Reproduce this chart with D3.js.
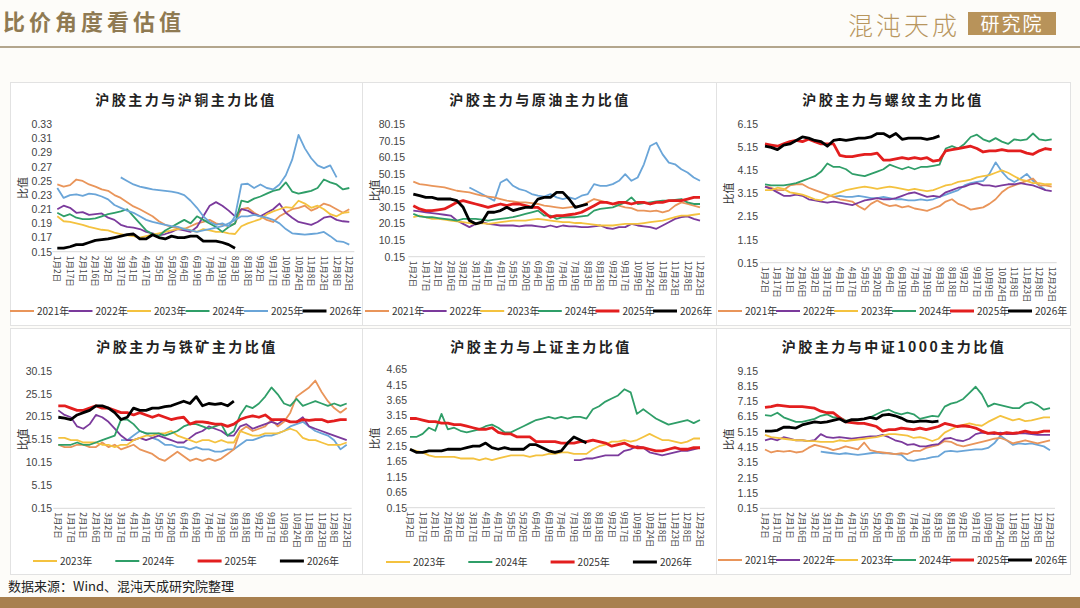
<!DOCTYPE html>
<html>
<head>
<meta charset="utf-8">
<script src="https://cdn.jsdelivr.net/npm/d3@7"></script>
<style>
  body { margin: 0; background: #fdfcf9; }
  svg { display: block; font-family: "Noto Sans CJK SC", "Noto Sans", sans-serif; }
</style>
</head>
<body>
<script>
// x axis labels (one every second data point)
const dates = ["1月2日","1月17日","2月1日","2月16日","3月2日","3月17日","4月1日","4月17日","5月5日","5月20日","6月4日","6月19日","7月4日","7月19日","8月3日","8月18日","9月2日","9月17日","10月9日","10月24日","11月8日","11月23日","12月8日","12月23日"];
const years = ["2021年","2022年","2023年","2024年","2025年","2026年"];

// 沪胶/沪铜
const cuTicks = [0.15,0.17,0.19,0.21,0.23,0.25,0.27,0.29,0.31,0.33];
const cu2021 = [0.245,0.242,0.244,0.252,0.250,0.245,0.242,0.238,0.236,0.230,0.226,0.220,0.214,0.210,0.205,0.200,0.193,0.188,0.185,0.183,0.182,0.186,0.190,0.192,0.195,0.190,0.188,0.186,0.190,0.210,0.212,0.205,0.200,0.195,0.192,0.200,0.205,0.210,0.212,0.215,0.208,0.212,0.218,0.215,0.210,0.205,0.210];
const cu2022 = [0.210,0.215,0.212,0.205,0.206,0.202,0.203,0.204,0.198,0.195,0.188,0.185,0.184,0.182,0.178,0.176,0.173,0.175,0.178,0.182,0.180,0.178,0.185,0.200,0.215,0.220,0.215,0.208,0.200,0.210,0.208,0.203,0.200,0.205,0.210,0.218,0.205,0.198,0.192,0.190,0.188,0.192,0.198,0.200,0.195,0.193,0.192];
const cu2023 = [0.200,0.193,0.192,0.190,0.188,0.185,0.183,0.181,0.180,0.177,0.175,0.173,0.172,0.170,0.172,0.174,0.176,0.178,0.180,0.182,0.183,0.180,0.178,0.182,0.180,0.178,0.178,0.176,0.175,0.186,0.190,0.193,0.196,0.203,0.207,0.210,0.213,0.212,0.222,0.218,0.212,0.215,0.210,0.203,0.200,0.205,0.206];
const cu2024 = [0.205,0.200,0.203,0.198,0.196,0.196,0.197,0.200,0.203,0.205,0.207,0.210,0.200,0.190,0.180,0.175,0.172,0.180,0.185,0.190,0.195,0.190,0.200,0.195,0.190,0.185,0.178,0.185,0.190,0.222,0.220,0.225,0.228,0.232,0.236,0.238,0.248,0.235,0.232,0.234,0.236,0.240,0.252,0.248,0.245,0.238,0.240];
const cu2025 = [0.240,0.226,0.230,0.231,0.229,0.232,0.231,0.228,0.224,0.216,0.212,0.208,0.205,0.200,0.195,0.192,0.190,0.188,0.186,0.185,0.182,0.180,0.178,0.180,0.182,0.184,0.186,0.190,0.195,0.200,0.200,0.202,0.200,0.198,0.195,0.190,0.182,0.176,0.175,0.174,0.175,0.176,0.178,0.172,0.165,0.164,0.160];
const cuExtra = [null,null,null,null,null,null,null,null,null,null,0.255,0.250,0.245,0.242,0.240,0.238,0.237,0.236,0.235,0.233,0.230,0.222,0.212,0.200,0.192,0.188,0.190,0.186,0.200,0.245,0.246,0.240,0.245,0.240,0.238,0.245,0.258,0.280,0.315,0.296,0.282,0.272,0.268,0.272,0.255];
const cu2026 = [0.155,0.155,0.157,0.160,0.160,0.163,0.166,0.167,0.168,0.170,0.172,0.174,0.175,0.168,0.168,0.174,0.170,0.168,0.172,0.170,0.170,0.172,0.172,0.165,0.165,0.165,0.163,0.160,0.155];

// 沪胶/原油
const crTicks = [0.15,10.15,20.15,30.15,40.15,50.15,60.15,70.15,80.15];
const cr2021 = [45.5,44,43.5,43,42.5,42,41,40,39.5,39,38,37,36.5,36,35,34,33.5,33,33,32.5,32,31,30.5,30,29.5,30,30.5,31,33,35,34,33,32,31,30,29.5,28,28,27.5,28,27,28,31,33,32,31,30];
const cr2022 = [28,27.5,27,26.5,26,25.5,25,22,20,18,20,21,20,19.5,19,19,19,18.5,19,19,18.5,18,19,18,19,18.5,18.5,18,18,18.5,19,17.5,17,18,18,20,19,18.5,18,17,19,21,23,24,24.5,23,22];
const cr2023 = [24,25,24,23,23,22.5,22,21.5,21,20.5,20,20.5,20,20.5,21,21.5,22,22,22,22.5,23,22.5,22,21.5,21,21,20.5,20.5,20,19.5,19,19,19,19.5,20,20,20,20.5,21,21.5,22,23,24,25,25,25.5,26];
const cr2024 = [26,24.5,24,24,23.5,23,22.5,22,23,23,23,22.5,22,22.5,23,23.5,24,25,26,27,28,25,25,23,24,24,24,24.5,25,28,29,29.5,30,31.5,33,36,32,32.5,33,33.5,34,34,34.5,35,33,32,32];
const cr2025 = [31,29,28,28,28.5,29,31,33,34,33,32,31,30,31,32,31,32,32,31,30,30,27,24,25,25,25.5,26,27,29,31,33,33,32,33,33,32,33,33,32,33,33,34,34,34,35,36,36];
const crExtra = [null,null,null,null,null,null,null,null,null,42,40,38,36,34,45,47,43,41,40,38,37,36.5,38,36,35,36,35,37,38,44,43,43,44,46,50,46,48,56,67,69,62,57,56,53,51,48,46];
const cr2026 = [38,37,36,36,35,35,35,34,30,22,20,21,27,27,28,30,28,29,30,30,35,36,36,39,39,35,30,31,32];

// 沪胶/螺纹
const rbTicks = [0.15,1.15,2.15,3.15,4.15,5.15,6.15];
const rb2021 = [3.45,3.4,3.3,3.3,3.5,3.55,3.55,3.4,3.3,3.2,3.1,3.0,2.9,2.85,2.8,2.6,2.45,2.7,2.85,2.7,2.6,2.65,2.55,2.6,2.5,2.45,2.4,2.5,2.6,2.8,2.9,2.7,2.6,2.45,2.5,2.55,2.7,2.9,3.2,3.4,3.5,3.6,3.7,3.8,3.5,3.5,3.45];
const rb2022 = [3.45,3.35,3.2,3.05,3.05,3.1,3.05,2.9,2.85,2.8,2.75,2.8,2.75,2.7,2.65,2.75,2.85,2.9,2.95,2.9,2.9,2.95,3.05,3.15,3.2,3.1,3.0,3.05,3.0,3.2,3.3,3.4,3.45,3.55,3.6,3.5,3.5,3.45,3.5,3.55,3.55,3.6,3.55,3.5,3.4,3.3,3.25];
const rb2023 = [3.3,3.3,3.4,3.35,3.2,3.15,3.1,3.0,2.9,2.85,3.0,3.1,3.2,3.3,3.35,3.4,3.45,3.4,3.35,3.4,3.45,3.4,3.35,3.3,3.35,3.3,3.25,3.3,3.4,3.5,3.55,3.65,3.7,3.75,3.85,3.9,3.95,4.05,4.15,4.05,3.9,3.75,3.7,3.6,3.6,3.55,3.55];
const rb2024 = [3.55,3.5,3.5,3.5,3.55,3.6,3.7,3.8,3.9,4.1,4.45,4.3,4.3,4.2,4.0,3.95,3.9,4.0,4.1,4.2,4.4,4.3,4.2,4.3,4.2,4.3,4.3,4.35,4.4,5.1,5.2,5.1,5.3,5.6,5.7,5.5,5.4,5.55,5.4,5.3,5.5,5.45,5.5,5.75,5.5,5.45,5.5];
const rb2025 = [5.3,5.25,5.2,5.3,5.4,5.45,5.4,5.5,5.4,5.3,5.3,5.3,4.8,4.75,4.75,4.8,4.85,4.85,4.9,4.6,4.6,4.65,4.7,4.65,4.7,4.65,4.7,4.55,4.6,5.0,5.05,5.1,5.15,5.2,5.1,4.95,5.0,5.0,5.05,5.0,5.0,5.0,4.9,4.85,5.0,5.1,5.05];
const rbExtra = [null,null,null,null,null,null,null,null,null,null,null,3.0,3.05,3.0,3.0,3.05,3.0,2.95,2.95,3.0,2.95,2.9,2.9,2.85,2.85,2.9,2.85,2.9,3.0,3.1,3.2,3.3,3.5,3.6,3.65,3.7,4.0,4.5,4.1,3.8,3.65,3.8,4.0,3.7,3.5,3.3];
const rb2026 = [5.2,5.15,5.05,5.25,5.3,5.45,5.6,5.55,5.45,5.4,5.2,5.45,5.5,5.45,5.5,5.55,5.55,5.6,5.75,5.75,5.6,5.75,5.5,5.55,5.55,5.55,5.5,5.55,5.65];

// 沪胶/铁矿
const irTicks = [0.15,5.15,10.15,15.15,20.15,25.15,30.15];
const ir2021 = [14,13.5,13.5,14,14,13.5,13.5,14.5,13.5,14,13,13.5,14,13,12.5,12,11,10.5,11.5,12.5,11.5,10.5,11,10.5,11,10.5,11,12,13,17,18,17,17.5,18,19.5,18,19,21,24.5,25.5,26.5,28,25.5,23.5,22,21,22];
const ir2022 = [21.5,20.5,20,18,17.5,18.5,20.5,20,19,17.5,16,15,15,15.5,15,15.5,16,15.5,15,14.5,14.5,15.5,16.5,17,18,17.5,17,16,16,18,18.5,17.5,18,18.5,19,18.5,19.5,19,19,20,18,17.5,17,16.5,16,15.5,15];
const ir2023 = [15.5,15.5,15,15,14.5,14.5,14.5,14,14,13.5,14,14,15,15.5,16,16,16.5,16.5,17,16,15.5,15,14.5,15,15,14.5,15,14.5,14.5,17,16.5,16,16,16.5,16.5,16.5,17,17.5,17,15.5,15,15,14.5,14,14,14,14.5];
const ir2024 = [14,14,14,14.5,14,14,14.5,15,15.5,16,19.5,19.5,18.5,17,16.5,16.5,16.5,16,16.5,17,18,18.5,18.5,18,17.5,18,18.5,16,17,20.5,22.5,22,23,24.5,26.5,25,23,22.5,24,22.5,23,23.5,23,22.5,23,22.5,23];
const ir2025 = [22.5,22.5,22,21.5,21.5,22,22.5,22,22,21.5,21,21,20.5,21,20.5,20,20.5,20,19.5,19.8,20,18.5,19,19,18.8,18.5,18.5,18,18.5,19.5,20,20.3,20,20.5,19.5,19.5,19.5,19,19,19.5,19.3,19.5,19.5,19,19.2,19.5,19.5];
const irExtra = [null,null,null,null,null,null,null,null,null,null,15,15,16,17,16.5,15.5,15,14,14,13.5,13.5,13,13.5,13,13,12.5,12.5,13,13,14,15,15,15.5,16,16,16.5,17,18,18.5,19,18,17,16.5,16,15,13,14];
const ir2026 = [20,19.8,19.5,20.5,21,21.5,22.5,22.5,22,21,19.5,20,22,21.5,21.5,22,22,22.3,22.5,23,23.5,23,24.5,22.5,23,22.8,23,22.5,23.5];

// 沪胶/上证
const ssTicks = [0.15,0.65,1.15,1.65,2.15,2.65,3.15,3.65,4.15,4.65];
const ss2022 = [null,null,null,null,null,null,null,null,null,null,null,null,null,null,null,null,null,null,null,null,null,null,null,null,null,null,1.7,1.7,1.75,1.75,1.8,1.85,1.85,1.85,2.0,2.05,2.15,2.1,1.95,1.9,1.85,1.9,1.95,2.0,2.0,2.05,2.1];
const ss2023 = [2.05,2.0,1.95,1.85,1.8,1.8,1.8,1.8,1.75,1.75,1.75,1.7,1.75,1.7,1.75,1.8,1.85,1.85,1.85,1.8,1.85,1.85,1.9,1.9,1.95,1.95,1.9,1.9,1.9,2.05,2.15,2.2,2.3,2.3,2.35,2.3,2.35,2.45,2.55,2.45,2.35,2.35,2.3,2.25,2.3,2.4,2.4];
const ss2024 = [2.45,2.45,2.55,2.75,2.65,3.2,2.7,2.75,2.65,2.6,2.65,2.7,2.8,2.85,2.75,2.6,2.6,2.7,2.8,2.9,3.0,3.05,3.1,3.05,3.1,3.05,3.1,3.1,3.05,3.35,3.45,3.6,3.7,3.8,4.0,3.9,3.2,3.35,3.2,3.05,2.95,2.85,2.9,2.95,3.0,2.9,3.0];
const ss2025 = [3.05,3.05,3.0,2.95,2.95,2.9,2.9,2.85,2.85,2.8,2.75,2.7,2.7,2.75,2.6,2.55,2.55,2.45,2.45,2.45,2.3,2.3,2.3,2.3,2.25,2.25,2.25,2.3,2.3,2.35,2.3,2.25,2.15,2.2,2.25,2.15,2.1,2.1,2.05,2.0,2.0,2.05,2.1,2.05,2.05,2.1,2.1];
const ss2026 = [2.05,1.95,1.95,2.0,2.0,2.0,2.05,2.05,2.05,2.1,2.15,2.15,2.25,2.1,2.05,2.1,2.05,2.05,2.05,2.2,2.2,2.1,2.0,1.95,2.0,2.25,2.45,2.35,2.25];

// 沪胶/中证1000
const csTicks = [0.15,1.15,2.15,3.15,4.15,5.15,6.15,7.15,8.15,9.15];
const cs2021 = [4.0,3.8,3.9,3.85,3.9,3.8,3.85,4.1,4.3,4.2,4.1,3.95,4.05,4.2,4.1,4.0,4.45,3.95,3.85,3.8,3.75,3.7,3.75,3.7,3.9,3.9,4.1,4.2,4.3,4.55,4.5,4.3,4.2,4.3,4.4,4.5,4.6,4.7,4.75,4.6,4.4,4.5,4.6,4.5,4.4,4.5,4.6];
const cs2022 = [4.6,4.7,4.6,4.8,4.7,4.6,4.6,4.55,4.6,5.0,4.8,4.75,4.8,4.75,4.7,4.75,4.8,4.85,4.85,4.95,4.8,4.6,4.5,4.3,4.35,4.2,4.2,4.3,4.35,4.7,4.75,4.6,4.55,4.7,5.0,5.1,5.05,5.0,5.1,5.0,5.0,5.05,5.05,5.0,4.95,4.95,4.95];
const cs2023 = [4.95,4.8,4.75,4.7,4.65,4.6,4.6,4.55,4.55,4.5,4.5,4.5,4.6,4.55,4.6,4.65,4.7,4.75,4.8,4.9,5.0,5.0,4.95,4.9,4.75,4.8,4.7,4.55,4.7,5.1,5.3,5.5,5.6,5.7,5.6,5.55,5.8,6.0,6.2,6.05,5.9,6.0,5.85,5.9,6.0,6.1,6.1];
const cs2024 = [6.25,6.2,6.4,6.1,5.95,5.8,5.8,5.9,6.0,6.2,6.3,6.1,6.1,5.9,5.85,5.9,6.0,6.1,6.3,6.5,6.6,6.4,6.3,6.4,6.3,6.0,6.1,6.2,6.15,6.8,7.0,7.1,7.3,7.7,8.1,7.6,6.8,7.0,6.9,6.8,6.7,6.7,7.0,7.1,6.9,6.6,6.7];
const cs2025 = [6.75,6.8,6.9,6.85,6.8,6.8,6.8,6.75,6.7,6.5,6.4,6.4,6.1,5.8,5.75,5.7,5.7,5.6,5.5,5.2,5.3,5.3,5.4,5.35,5.3,5.4,5.3,5.4,5.5,5.7,5.6,5.5,5.55,5.5,5.4,5.2,5.05,5.1,5.0,5.1,5.05,5.1,5.2,5.1,5.1,5.2,5.2];
const csExtra = [null,null,null,null,null,null,null,null,null,3.85,3.8,3.75,3.7,3.75,3.7,3.65,3.7,3.75,3.8,3.75,3.75,3.7,3.65,3.3,3.25,3.35,3.4,3.5,3.55,3.85,3.9,3.85,3.9,3.95,4.0,4.0,4.1,4.4,4.9,4.6,4.3,4.4,4.35,4.4,4.3,4.2,3.95];
const cs2026 = [5.2,5.2,5.25,5.45,5.45,5.4,5.6,5.7,5.8,5.75,5.8,5.9,6.0,5.8,5.95,5.95,6.0,6.1,6.0,6.25,6.3,6.2,6.05,5.85,5.8,5.85,5.85,5.8,5.85];

const ORANGE = "#e9955a", PURPLE = "#7b3a9c", YELLOW = "#f4c23f", GREEN = "#2f9e68",
      BLUE = "#6aa5d8", RED = "#e31e1e", BLACK = "#000000";

const sixLegend = [ORANGE, PURPLE, YELLOW, GREEN, RED, BLACK].map((c, i) => [years[i], c]);
const fourLegend = [YELLOW, GREEN, RED, BLACK].map((c, i) => [years[i + 2], c]);

const panels = [
  { title: "沪胶主力与沪铜主力比值", ticks: cuTicks,
    lines: [[cu2021, ORANGE], [cu2022, PURPLE], [cu2023, YELLOW], [cu2024, GREEN], [cuExtra, BLUE], [cu2025, BLUE], [cu2026, BLACK]],
    legend: [ORANGE, PURPLE, YELLOW, GREEN, BLUE, BLACK].map((c, i) => [years[i], c]) },
  { title: "沪胶主力与原油主力比值", ticks: crTicks,
    lines: [[crExtra, BLUE], [cr2021, ORANGE], [cr2022, PURPLE], [cr2023, YELLOW], [cr2024, GREEN], [cr2025, RED], [cr2026, BLACK]],
    legend: sixLegend },
  { title: "沪胶主力与螺纹主力比值", ticks: rbTicks,
    lines: [[rbExtra, BLUE], [rb2021, ORANGE], [rb2022, PURPLE], [rb2023, YELLOW], [rb2024, GREEN], [rb2025, RED], [rb2026, BLACK]],
    legend: sixLegend },
  { title: "沪胶主力与铁矿主力比值", ticks: irTicks,
    lines: [[irExtra, BLUE], [ir2021, ORANGE], [ir2022, PURPLE], [ir2023, YELLOW], [ir2024, GREEN], [ir2025, RED], [ir2026, BLACK]],
    legend: fourLegend },
  { title: "沪胶主力与上证主力比值", ticks: ssTicks,
    lines: [[ss2022, PURPLE], [ss2023, YELLOW], [ss2024, GREEN], [ss2025, RED], [ss2026, BLACK]],
    legend: fourLegend },
  { title: "沪胶主力与中证1000主力比值", ticks: csTicks,
    lines: [[csExtra, BLUE], [cs2021, ORANGE], [cs2022, PURPLE], [cs2023, YELLOW], [cs2024, GREEN], [cs2025, RED], [cs2026, BLACK]],
    legend: sixLegend },
];

// where each panel sits on the page
const frames = [
  { bx: 10, by: 82, bw: 352, bh: 243, x0: 57.3, x1: 349.3, yT: 124.3, yB: 251.7, labX: 52, tx: 186, ty: 100, legX: 37, legStep: 58.5, legY: 311 },
  { bx: 362, by: 82, bw: 354, bh: 243, x0: 413.3, x1: 700, yT: 124.3, yB: 256.7, labX: 405, tx: 540, ty: 100, legX: 392, legStep: 57.6, legY: 311 },
  { bx: 716, by: 82, bw: 354, bh: 243, x0: 765, x1: 1051.7, yT: 124.3, yB: 262.7, labX: 758, tx: 893, ty: 100, legX: 745, legStep: 58, legY: 311 },
  { bx: 10, by: 328, bw: 352, bh: 246, x0: 58.3, x1: 346.7, yT: 370.7, yB: 508.3, labX: 52, tx: 187, ty: 347, legX: 60, legStep: 82.3, legY: 561 },
  { bx: 362, by: 328, bw: 354, bh: 246, x0: 410, x1: 700, yT: 369.3, yB: 507.7, labX: 407, tx: 541, ty: 347, legX: 413, legStep: 82.3, legY: 562 },
  { bx: 716, by: 328, bw: 354, bh: 246, x0: 765, x1: 1050, yT: 370.7, yB: 508.3, labX: 758, tx: 894, ty: 347, legX: 745, legStep: 58, legY: 560 },
];

const width = 1080;
const height = 608;

const svg = d3.select("body").append("svg")
  .attr("width", width)
  .attr("height", height);

svg.append("rect").attr("width", width).attr("height", height).attr("fill", "#fdfcf9");

// header
svg.append("text")
  .attr("x", 3).attr("y", 30)
  .attr("font-size", 22).attr("font-weight", "bold")
  .attr("letter-spacing", 4)
  .attr("fill", "#8f7a52")
  .text("比价角度看估值");

svg.append("text")
  .attr("x", 848).attr("y", 35)
  .attr("font-size", 25).attr("font-weight", 300)
  .attr("letter-spacing", 3)
  .attr("fill", "#b8965e")
  .text("混沌天成");

svg.append("rect")
  .attr("x", 968).attr("y", 12).attr("width", 88).attr("height", 23)
  .attr("fill", "#b8935a");

svg.append("text")
  .attr("x", 1012).attr("y", 30.5)
  .attr("text-anchor", "middle")
  .attr("font-size", 19).attr("letter-spacing", 2)
  .attr("fill", "#fff")
  .text("研究院");

svg.append("line")
  .attr("x1", 0).attr("x2", width).attr("y1", 47).attr("y2", 47)
  .attr("stroke", "#b3a68d").attr("stroke-width", 2);

// footer
svg.append("text")
  .attr("x", 8).attr("y", 591)
  .attr("font-size", 13).attr("fill", "#222")
  .text("数据来源：Wind、混沌天成研究院整理");

svg.append("rect")
  .attr("x", 0).attr("y", 597).attr("width", width).attr("height", 11)
  .attr("fill", "#a8804f");

panels.forEach((p, k) => drawPanel(p, frames[k]));

function drawPanel(p, f) {
  const g = svg.append("g");

  g.append("rect")
    .attr("x", f.bx + 0.5).attr("y", f.by + 0.5)
    .attr("width", f.bw).attr("height", f.bh)
    .attr("fill", "#fff").attr("stroke", "#e2e2e2");

  const x = d3.scaleLinear().domain([0, 46]).range([f.x0, f.x1]);
  const y = d3.scaleLinear().domain([p.ticks[0], p.ticks[p.ticks.length - 1]]).range([f.yB, f.yT]);

  g.append("text")
    .attr("x", f.tx).attr("y", f.ty + 5)
    .attr("text-anchor", "middle")
    .attr("font-size", 14).attr("font-weight", "bold")
    .attr("letter-spacing", 2.5)
    .attr("fill", "#222")
    .text(p.title);

  // y axis
  const yAxis = g.append("g")
    .attr("transform", `translate(${f.labX + 4},0)`)
    .call(d3.axisLeft(y).tickValues(p.ticks).tickSize(0).tickPadding(4).tickFormat(d3.format(".2f")));
  yAxis.select(".domain").remove();
  yAxis.selectAll("text").attr("font-size", 10.5).attr("fill", "#444").attr("font-family", null);

  g.append("text")
    .attr("transform", `translate(${f.bx + 13},${(f.yT + f.yB) / 2}) rotate(-90)`)
    .attr("text-anchor", "middle")
    .attr("dy", "0.35em")
    .attr("font-size", 11).attr("fill", "#333")
    .text("比值");

  // x axis baseline + rotated date labels
  g.append("line")
    .attr("x1", f.x0 - 5).attr("x2", f.x1 + 5)
    .attr("y1", f.yB).attr("y2", f.yB)
    .attr("stroke", "#d9d9d9");

  g.selectAll(".xl")
    .data(dates)
    .join("text")
    .attr("class", "xl")
    .attr("transform", (d, i) => `translate(${x(i * 2)},${f.yB + 4}) rotate(90)`)
    .attr("dy", "0.35em")
    .attr("font-size", 8.5).attr("fill", "#444")
    .text((d) => d);

  const line = d3.line()
    .defined((d) => d != null)
    .x((d, i) => x(i))
    .y((d) => y(d));

  p.lines.forEach(([vals, color]) => {
    const thick = color === RED || color === BLACK;
    g.append("path")
      .datum(vals)
      .attr("d", line)
      .attr("fill", "none")
      .attr("stroke", color)
      .attr("stroke-width", thick ? 2.8 : 1.8)
      .attr("stroke-linejoin", "round");
  });

  // legend
  const leg = g.selectAll(".lg")
    .data(p.legend)
    .join("g")
    .attr("class", "lg")
    .attr("transform", (d, i) => `translate(${f.legX + i * f.legStep},${f.legY})`);

  leg.append("line")
    .attr("x1", -27).attr("x2", -3)
    .attr("stroke", (d) => d[1])
    .attr("stroke-width", (d) => (d[1] === RED || d[1] === BLACK ? 3 : 2));

  leg.append("text")
    .attr("dy", "0.35em")
    .attr("font-size", 10).attr("fill", "#333")
    .text((d) => d[0]);
}
</script>
</body>
</html>
